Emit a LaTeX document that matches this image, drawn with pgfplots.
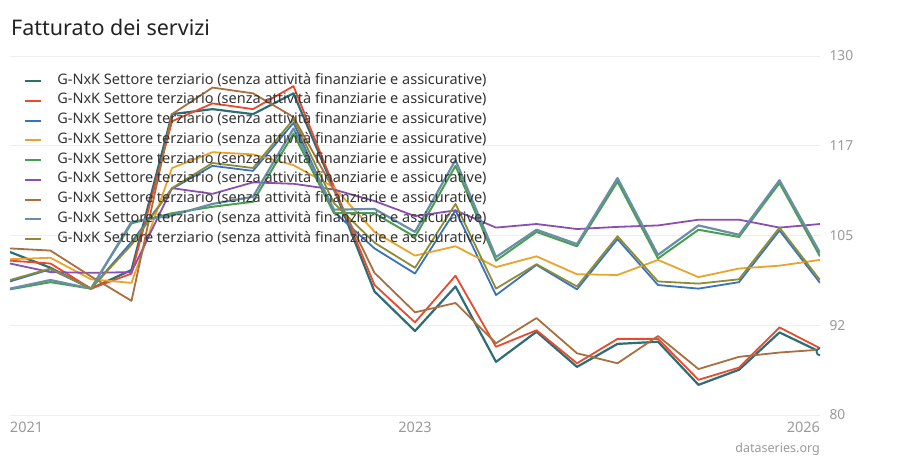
\documentclass[border=0pt]{standalone}
\usepackage{fontspec}
\setmainfont{Noto Sans}
\usepackage{pgfplots}
\usepackage{pgfplotstable}
\pgfplotsset{compat=1.18}
\definecolor{cteal}{HTML}{2F6D75}
\definecolor{cred}{HTML}{E84A2F}
\definecolor{cblue}{HTML}{3B72C0}
\definecolor{corange}{HTML}{E9A42C}
\definecolor{cgreen}{HTML}{4A9E4F}
\definecolor{cpurple}{HTML}{8A4FB0}
\definecolor{cbrown}{HTML}{A86F40}
\definecolor{csteel}{HTML}{6A8EA8}
\definecolor{colive}{HTML}{8C8C35}
\definecolor{gridc}{HTML}{EEEEEE}
\definecolor{tickc}{HTML}{999999}
\definecolor{titlec}{HTML}{222222}
\definecolor{legc}{HTML}{333333}
\pgfplotstableread{
idx teal red blue orange green purple brown steel olive
0 102.7 101.5 98.6 101.7 97.5 101.1 103.2 97.6 98.8
1 100.5 101.1 100.3 101.9 98.5 99.9 102.9 98.8 100.4
2 97.6 97.6 97.6 98.9 97.6 99.8 99.3 97.6 97.6
3 100.2 99.7 104.1 98.4 106.7 99.9 95.9 106.9 103.7
4 121.9 120.9 111.5 114.4 108.1 111.6 121.9 107.8 111.6
5 122.6 123.4 114.7 116.6 109.0 110.8 125.6 109.4 115.1
6 121.9 122.6 114.0 116.3 109.7 112.4 124.8 110.4 114.4
7 124.8 125.8 120.7 114.8 119.2 112.2 121.5 119.9 121.2
8 111.5 111.8 108.3 111.7 108.1 111.4 111.3 108.6 109.5
9 97.2 98.1 103.2 105.5 108.1 109.8 99.8 108.7 104.0
10 91.7 92.9 99.7 102.2 104.8 107.7 94.3 105.5 100.5
11 97.9 99.4 108.5 103.5 114.7 108.5 95.6 115.5 109.4
12 87.4 89.5 96.7 100.6 101.5 106.1 90.0 102.0 97.6
13 91.6 91.8 100.9 102.1 105.5 106.6 93.5 105.8 101.0
14 86.7 87.2 97.5 99.6 103.5 105.9 88.6 103.8 97.9
15 89.9 90.6 104.5 99.5 112.5 106.2 87.2 113.0 104.9
16 90.2 90.6 98.1 101.6 101.8 106.4 91.0 102.3 98.6
17 84.2 84.9 97.6 99.2 105.8 107.2 86.4 106.4 98.3
18 86.3 86.6 98.5 100.4 104.8 107.2 88.1 105.1 98.9
19 91.5 92.2 105.7 100.8 112.3 106.1 88.7 112.7 106.1
20 88.8 89.3 98.4 101.6 102.1 106.6 89.1 102.6 98.8
}\data
\newcommand{\lab}{G-NxK Settore terziario (senza attività finanziarie e assicurative)}
\begin{document}
\begin{tikzpicture}
\begin{axis}[
  name=ax,
  scale only axis, width=810pt, height=359pt,
  xmin=0, xmax=20, ymin=80, ymax=130,
  axis line style={draw=none},
  major tick length=0pt,
  ymajorgrids, grid style={draw=gridc, line width=0.9pt},
  ytick={80,92.5,105,117.5,130},
  yticklabels={80,92,105,117,130},
  yticklabel pos=right,
  yticklabel style={anchor=west, xshift=6pt, text=tickc, font=\fontsize{13.8}{16}\selectfont},
  xtick={0,10,20},
  xticklabels={\makebox[0pt][l]{2021},2023,\makebox[0pt][r]{2026}},
  xticklabel style={anchor=north, yshift=-3pt, text=tickc, font=\fontsize{14.5}{16}\selectfont},
  clip marker paths=true,
  legend style={at={(0,1)}, anchor=north west, xshift=11pt, yshift=-17pt,
    draw=none, fill=none, row sep=7.75pt, column sep=0pt,
    nodes={inner sep=0pt, text height=9pt, text depth=3pt, text=legc},
    font=\fontsize{14.5}{16}\selectfont},
  legend cell align=left,
  legend image code/.code={\draw[#1, line width=2pt] (0pt,0pt) -- (16pt,0pt); \path (31pt,0pt);},
  every axis plot/.append style={line join=round},
]
\addplot[cteal, line width=2.2pt, mark=none] table[x=idx,y=teal]{\data};
\addlegendentry{\lab}
\addplot[cred, line width=1.8pt] table[x=idx,y=red]{\data};
\addlegendentry{\lab}
\addplot[cblue, line width=1.8pt] table[x=idx,y=blue]{\data};
\addlegendentry{\lab}
\addplot[corange, line width=1.8pt] table[x=idx,y=orange]{\data};
\addlegendentry{\lab}
\addplot[cgreen, line width=2pt] table[x=idx,y=green]{\data};
\addlegendentry{\lab}
\addplot[cpurple, line width=1.8pt] table[x=idx,y=purple]{\data};
\addlegendentry{\lab}
\addplot[cbrown, line width=1.8pt] table[x=idx,y=brown]{\data};
\addlegendentry{\lab}
\addplot[csteel, line width=2.2pt] table[x=idx,y=steel]{\data};
\addlegendentry{\lab}
\addplot[colive, line width=1.8pt] table[x=idx,y=olive]{\data};
\addlegendentry{\lab}
\addplot[cteal, line width=1.8pt, only marks, mark=*, mark size=3.5pt, mark options={fill=white, draw=cteal}, forget plot] coordinates {(20,88.8)};
\end{axis}
\path[use as bounding box] ([xshift=-10pt,yshift=-45pt]ax.south west) rectangle ++(900pt,460pt);
\node[anchor=base west, inner sep=0pt, text=titlec, font=\fontsize{21.5}{24}\selectfont] at ([xshift=1pt,yshift=21pt]ax.north west) {Fatturato dei servizi};
\node[anchor=base east, inner sep=0pt, text=tickc, font=\fontsize{12.5}{14}\selectfont] at ([yshift=-38pt]ax.south east) {dataseries.org};
\end{tikzpicture}
\end{document}
